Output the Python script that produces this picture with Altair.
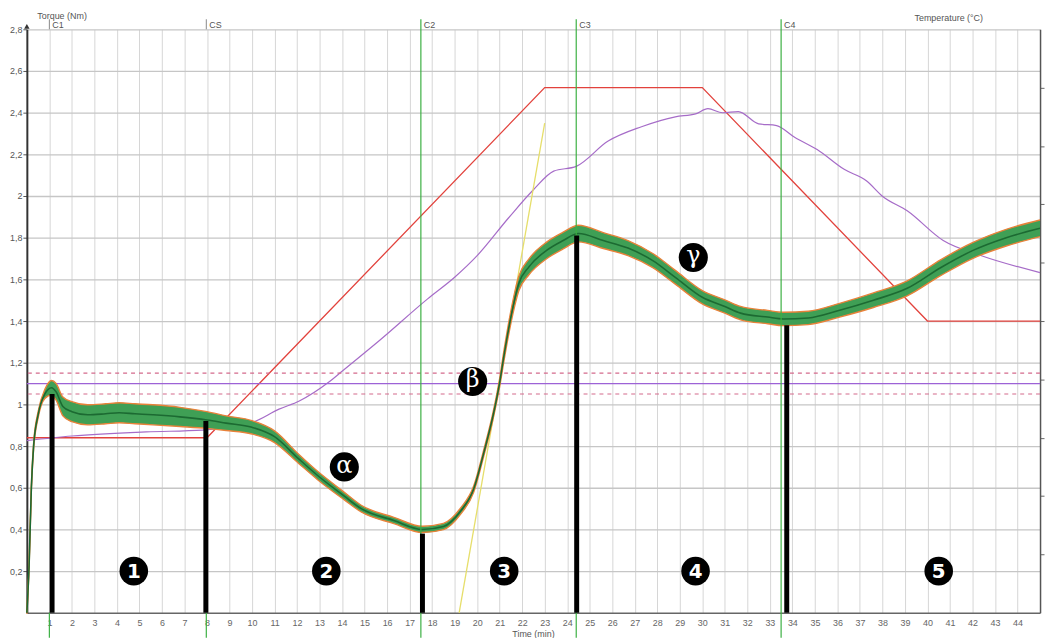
import altair as alt
import pandas as pd

# ---------------- data ----------------
# Torque curve (centre of the noisy band), minutes / Nm
time_min = [0, 0.1, 0.2, 0.3, 0.5, 0.8, 1.1, 1.3, 1.6, 2.0, 2.7, 3.5, 4.1, 4.8, 5.6,
            6.8, 8.0, 8.85, 10.0, 11.0, 12.06, 12.9, 14.1, 14.85, 16.3, 17.57, 18.5,
            19.25, 19.85, 20.3, 20.7, 21.0, 21.2, 21.5, 21.85, 22.3, 23.1, 23.8, 24.5,
            25.6, 26.7, 27.8, 28.8, 30.0, 31.0, 31.7, 32.9, 33.6, 34.7, 36.1, 37.6,
            39.1, 40.6, 42.0, 43.5, 45.0]
torque_nm = [0, 0.23, 0.6, 0.8, 0.95, 1.05, 1.08, 1.06, 0.99, 0.965, 0.95, 0.955, 0.96,
             0.955, 0.95, 0.94, 0.925, 0.91, 0.89, 0.845, 0.74, 0.66, 0.56, 0.50, 0.443,
             0.40, 0.414, 0.486, 0.595, 0.77, 0.943, 1.105, 1.24, 1.42, 1.58, 1.66, 1.74,
             1.785, 1.82, 1.786, 1.75, 1.69, 1.61, 1.514, 1.47, 1.438, 1.419, 1.41, 1.415,
             1.452, 1.50, 1.557, 1.657, 1.738, 1.80, 1.845]
band_half = [0.005, 0.01, 0.012, 0.015, 0.015, 0.022, 0.035, 0.04, 0.045, 0.048, 0.048,
             0.048, 0.048, 0.048, 0.048, 0.046, 0.04, 0.035, 0.032, 0.028, 0.022, 0.02,
             0.018, 0.016, 0.015, 0.015, 0.015, 0.015, 0.015, 0.015, 0.016, 0.02, 0.025,
             0.03, 0.035, 0.038, 0.04, 0.04, 0.04, 0.038, 0.036, 0.034, 0.033, 0.032,
             0.032, 0.032, 0.032, 0.032, 0.032, 0.033, 0.035, 0.036, 0.038, 0.038, 0.04,
             0.04]

# Temperature set point (red) and dough temperature (purple), minutes / degC
set_time = [0, 8, 23, 30, 40, 45]
set_temp = [30, 30, 90, 90, 50, 50]
dough_time = [0, 2, 5.3, 7.8, 9.3, 10, 11.2, 12.1, 13.4, 14, 15.7, 17.8, 19, 20, 21.4,
              22.5, 23.4, 24.4, 25.8, 27.3, 28.8, 29.7, 30.25, 30.9, 31.6, 32.5, 33.3,
              34.1, 35.1, 36.3, 37.3, 38, 39.1, 40.7, 42.4, 45]
dough_temp = [29.5, 30.3, 31, 31.3, 32, 32.6, 34.9, 36.3, 39.5, 41.4, 46.8, 53.8, 57.5,
              61.2, 67.7, 72.5, 75.7, 76.5, 80.8, 83.3, 85, 85.5, 86.4, 85.7, 85.9, 83.8,
              83.5, 81.5, 79.4, 76, 74, 71.4, 68.9, 63.8, 61.2, 58.3]

# Tangent (yellow)
tangent_time = [19.2, 23.0]
tangent_torque = [0.0, 2.35]

# Characteristic points
c_labels = ["C1", "CS", "C2", "C3", "C4"]
c_time = [1.0, 7.97, 17.5, 24.4, 33.5]
c_full = [False, False, True, True, True]
bar_time = [1.12, 7.95, 17.57, 24.42, 33.75]
bar_torque = [1.05, 0.92, 0.38, 1.81, 1.38]

# Reference levels
ref_solid = [1.1]
ref_dashed = [1.05, 1.15]

# Phase numbers and greek letters
phase_labels = ["1", "2", "3", "4", "5"]
phase_time = [4.75, 13.3, 21.2, 29.7, 40.5]
phase_torque = [0.2, 0.2, 0.2, 0.2, 0.2]
greek_labels = ["α", "β", "γ"]
greek_time = [14.1, 19.8, 29.6]
greek_torque = [0.70, 1.11, 1.705]

# ---------------- chart ----------------
W, H = 1021, 588
FONT = "Liberation Sans"

df_torque = pd.DataFrame({
    "t": time_min,
    "torque": torque_nm,
    "lo": [v - h for v, h in zip(torque_nm, band_half)],
    "hi": [v + h for v, h in zip(torque_nm, band_half)],
})
df_set = pd.DataFrame({"t": set_time, "temp": set_temp})
df_dough = pd.DataFrame({"t": dough_time, "temp": dough_temp})
df_tan = pd.DataFrame({"t": tangent_time, "torque": tangent_torque})
df_c = pd.DataFrame({"t": c_time, "label": c_labels, "full": c_full})
df_bar = pd.DataFrame({"t": bar_time, "torque": bar_torque, "base": [0] * len(bar_time)})
df_solid = pd.DataFrame({"level": ref_solid})
df_dashed = pd.DataFrame({"level": ref_dashed})
df_phase = pd.DataFrame({"t": phase_time, "torque": phase_torque, "label": phase_labels})
df_greek = pd.DataFrame({"t": greek_time, "torque": greek_torque, "label": greek_labels})

x_scale = alt.Scale(domain=[0, 45], nice=False, zero=False)
y_scale = alt.Scale(domain=[0, 2.8], nice=False)
t_scale = alt.Scale(domain=[0, 100], nice=False)

x_axis = alt.Axis(
    values=list(range(1, 45)), grid=True, gridColor="#d6d6d6", gridWidth=1,
    ticks=False, labelFontSize=9, labelColor="#666", labelPadding=6, labelFont=FONT,
    domainColor="#666", domainWidth=1.5,
    title="Time (min)", titleFontSize=9, titleFontWeight="normal", titleColor="#555",
    titleFont=FONT, titleX=510, titleY=17, titleBaseline="top", titleAlign="center",
)
y_axis = alt.Axis(
    values=[round(0.2 * i, 1) for i in range(1, 15)],
    labelExpr="replace(format(datum.value, '.1~f'), '.', ',')",
    grid=True, gridColor="#c6c6c6", gridWidth=1.3, tickSize=4, tickColor="#555",
    labelFontSize=9, labelColor="#555", labelPadding=1, labelFont=FONT,
    domainColor="#333", domainWidth=2,
    title="Torque (Nm)", titleAngle=0, titleX=10, titleY=-14, titleAlign="left",
    titleBaseline="middle", titleFontSize=9, titleFontWeight="normal", titleColor="#555",
    titleFont=FONT,
)
t_axis = alt.Axis(
    orient="right", values=list(range(10, 100, 10)), labels=False, grid=False,
    tickSize=4, tickColor="#666", domainColor="#555", domainWidth=1.5,
    title="Temperature (°C)", titleAngle=0, titleX=-127, titleY=-12, titleAlign="left",
    titleBaseline="middle", titleFontSize=9, titleFontWeight="normal", titleColor="#555",
    titleFont=FONT,
)


def X(field):
    return alt.X(field, type="quantitative", scale=x_scale, axis=x_axis)


def YT(field):
    return alt.Y(field, type="quantitative", scale=y_scale, axis=y_axis)


def YC(field):
    return alt.Y(field, type="quantitative", scale=t_scale, axis=t_axis)


# temperature group (right axis)
set_line = alt.Chart(df_set).mark_line(color="#e2423c", strokeWidth=1.3).encode(
    x=X("t"), y=YC("temp"))
dough_line = alt.Chart(df_dough).mark_line(color="#a66cc8", strokeWidth=1.2,
                                           interpolate="monotone").encode(
    x=X("t"), y=YC("temp"))
temp_group = alt.layer(set_line, dough_line)

# torque group (left axis)
solid_ref = alt.Chart(df_solid).mark_rule(color="#9d62d6", strokeWidth=1.2).encode(
    y=YT("level"))
dashed_ref = alt.Chart(df_dashed).mark_rule(color="#d46a8c", strokeWidth=1.2,
                                            strokeDash=[4, 4]).encode(y=YT("level"))
tangent = alt.Chart(df_tan).mark_line(color="#e6de6a", strokeWidth=1.3).encode(
    x=X("t"), y=YT("torque"))
band = alt.Chart(df_torque).mark_area(color="#3f9f55", opacity=1,
                                      interpolate="monotone").encode(
    x=X("t"), y=YT("lo"), y2=alt.Y2("hi"))
edge_lo = alt.Chart(df_torque).mark_line(color="#e8823a", strokeWidth=1.4,
                                         interpolate="monotone").encode(
    x=X("t"), y=YT("lo"))
edge_hi = alt.Chart(df_torque).mark_line(color="#e8823a", strokeWidth=1.4,
                                         interpolate="monotone").encode(
    x=X("t"), y=YT("hi"))
mid = alt.Chart(df_torque).mark_line(color="#1c6a32", strokeWidth=1.6,
                                     interpolate="monotone").encode(
    x=X("t"), y=YT("torque"))
bars = alt.Chart(df_bar).mark_rule(color="black", strokeWidth=5).encode(
    x=X("t"), y=YT("torque"), y2=alt.Y2("base"))

# green marker lines: full height for C2..C4, only below the axis for C1/CS
full_c = alt.Chart(df_c).transform_filter("datum.full").mark_rule(
    color="#3cb043", strokeWidth=1.2).encode(
    x=X("t"), y=alt.datum(2.848), y2=alt.datum(-0.12))
low_c = alt.Chart(df_c).transform_filter("!datum.full").mark_rule(
    color="#3cb043", strokeWidth=1.2).encode(
    x=X("t"), y=alt.datum(0), y2=alt.datum(-0.12))
top_tick = alt.Chart(df_c).transform_filter("!datum.full").mark_rule(
    color="#888", strokeWidth=1).encode(
    x=X("t"), y=alt.datum(2.848), y2=alt.datum(2.8))
c_text = alt.Chart(df_c).mark_text(align="left", dx=3, baseline="middle", fontSize=9,
                                   color="#555", font=FONT).encode(
    x=X("t"), y=alt.value(-4), text="label")

phase_dot = alt.Chart(df_phase).mark_circle(size=830, color="black", opacity=1).encode(
    x=X("t"), y=YT("torque"))
phase_txt = alt.Chart(df_phase).mark_text(color="white", fontSize=20, fontWeight="bold",
                                          font="DejaVu Sans", baseline="middle",
                                          align="center", dy=1).encode(
    x=X("t"), y=YT("torque"), text="label")
greek_dot = alt.Chart(df_greek).mark_circle(size=860, color="black", opacity=1).encode(
    x=X("t"), y=YT("torque"))
greek_txt = alt.Chart(df_greek).mark_text(color="white", fontSize=24,
                                          font="DejaVu Serif", baseline="middle",
                                          align="center", dy=-1).encode(
    x=X("t"), y=YT("torque"), text="label")

arrow = alt.Chart(pd.DataFrame({"a": [0]})).mark_point(
    shape="triangle-up", filled=True, size=30, color="#333", opacity=1).encode(
    x=alt.value(0), y=alt.value(-3))

torque_group = alt.layer(
    solid_ref, dashed_ref, tangent, band, edge_lo, edge_hi, mid,
    full_c, low_c, top_tick, bars, c_text, phase_dot, phase_txt, greek_dot, greek_txt,
    arrow,
)

chart = alt.layer(temp_group, torque_group).resolve_scale(y="independent").properties(
    width=W, height=H,
    autosize=alt.AutoSizeParams(type="none"),
    padding={"left": 19, "top": 19, "right": 5, "bottom": 30},
    background="white",
).configure_view(stroke=None)

chart.save("out.html", embed_options={"renderer": "svg", "actions": False})
